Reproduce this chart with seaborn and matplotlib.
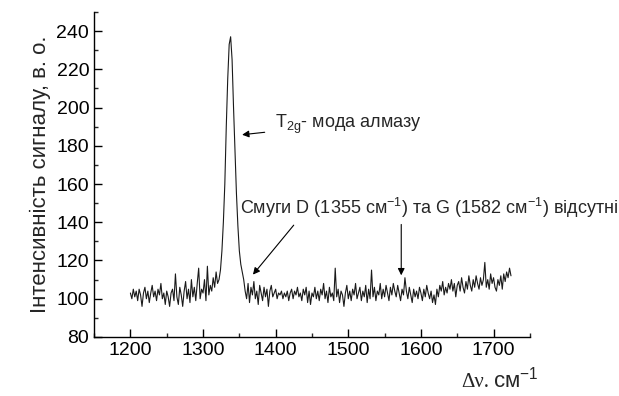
import numpy as np
import pandas as pd
import matplotlib
matplotlib.use("Agg")
import matplotlib.pyplot as plt
import seaborn as sns
from matplotlib.ticker import MultipleLocator

# Raman shift (cm^-1), step 2
shift_start = 1200
shift_step = 2
intensity = [
    103, 100, 105, 101, 104, 99, 105, 102, 96, 103,
    106, 100, 104, 98, 103, 107, 101, 104, 99, 105,
    102, 108, 100, 103, 97, 104, 101, 96, 103, 105,
    99, 113, 101, 97, 106, 102, 96, 104, 109, 100,
    105, 98, 110, 101, 106, 99, 108, 116, 100, 105,
    103, 110, 99, 117, 102, 107, 104, 111, 106, 114,
    108, 110, 115, 125, 140, 160, 190, 215, 233, 237,
    225, 200, 178, 155, 138, 125, 118, 114, 110, 104,
    100, 108, 98, 106, 102, 109, 100, 104, 97, 107,
    103, 99, 106, 101, 105, 96, 104, 107, 101, 103,
    105, 100, 103, 102, 104, 100, 103, 101, 104, 99,
    103, 105, 100, 104, 102, 106, 101, 103, 99, 105,
    102, 106, 98, 104, 97, 103, 101, 106, 100, 104,
    99, 105, 102, 108, 100, 104, 98, 106, 101, 103,
    99, 116, 101, 105, 98, 104, 102, 96, 103, 107,
    100, 104, 99, 105, 102, 108, 100, 103, 106, 99,
    104, 101, 107, 98, 105, 100, 115, 101, 106, 99,
    104, 102, 108, 100, 105, 101, 107, 103, 99, 106,
    102, 108, 104, 101, 107, 103, 99, 105, 102, 111,
    104, 100, 106, 102, 98, 105, 101, 104, 100, 106,
    103, 99, 105, 101, 107, 103, 100, 104, 98, 102,
    97, 105, 101, 107, 104, 109, 102, 106, 103, 108,
    105, 110, 104, 108, 101, 107, 109, 104, 111, 106,
    103, 109, 105, 112, 107, 104, 110, 106, 112, 108,
    105, 111, 107, 110, 119, 106, 110, 105, 113, 108,
    111, 106, 104, 110, 107, 112, 105, 113, 109, 114,
    111, 116, 112,
]
shift = [shift_start + shift_step * i for i in range(len(intensity))]

x_ticks = [1200, 1300, 1400, 1500, 1600, 1700]
y_ticks = [80, 100, 120, 140, 160, 180, 200, 220, 240]

df = pd.DataFrame({"shift": shift, "intensity": intensity})

sns.set_style("ticks")
plt.rcParams["font.family"] = ["Liberation Sans", "DejaVu Sans"]
plt.rcParams["mathtext.fontset"] = "custom"
plt.rcParams["mathtext.rm"] = "Liberation Sans"
plt.rcParams["mathtext.it"] = "Liberation Sans"
plt.rcParams["mathtext.default"] = "regular"

fig = plt.figure(figsize=(6.19, 3.96), dpi=100)
ax = fig.add_axes([0.152, 0.149, 0.704, 0.821])

sns.lineplot(data=df, x="shift", y="intensity", ax=ax, color="#1a1a1a",
             linewidth=0.8, estimator=None)

ax.set_xlim(1150, 1750)
ax.set_ylim(80, 250)
ax.set_xticks(x_ticks)
ax.set_yticks(y_ticks)
ax.xaxis.set_minor_locator(MultipleLocator(50))
ax.yaxis.set_minor_locator(MultipleLocator(10))
ax.tick_params(which="major", direction="in", length=6, width=1, labelsize=14, colors="black")
ax.tick_params(which="minor", direction="in", length=3, width=1)
for s in ["top", "right"]:
    ax.spines[s].set_visible(False)
for s in ["left", "bottom"]:
    ax.spines[s].set_linewidth(1)
    ax.spines[s].set_color("black")

ax.set_xlabel("")
ax.set_ylabel("Інтенсивність сигналу, в. о.", fontsize=16, labelpad=4)

fig.text(0.745, 0.022, "Δν.", fontsize=15, family="Liberation Serif", ha="left", va="baseline")
fig.text(0.796, 0.022, "см$^{-1}$", fontsize=16, ha="left", va="baseline")

ax.annotate("", xy=(1350, 185.6), xytext=(1388.7, 187.2),
            arrowprops=dict(arrowstyle="-|>", color="black", lw=0.8, mutation_scale=10))
ax.text(1399.7, 191.4, "T$_{2g}$- мода алмазу", fontsize=13, ha="left", va="center")

ax.annotate("", xy=(1366.3, 111.5), xytext=(1427.3, 139.6),
            arrowprops=dict(arrowstyle="-|>", color="black", lw=0.8, mutation_scale=10))
ax.annotate("", xy=(1572.9, 110.8), xytext=(1572.9, 140.3),
            arrowprops=dict(arrowstyle="-|>", color="black", lw=0.8, mutation_scale=10))
ax.text(1351.5, 147.5, "Смуги D (1355 см$^{-1}$) та G (1582 см$^{-1}$) відсутні",
        fontsize=13, ha="left", va="center", clip_on=False)

fig.savefig("out.png", dpi=100)
